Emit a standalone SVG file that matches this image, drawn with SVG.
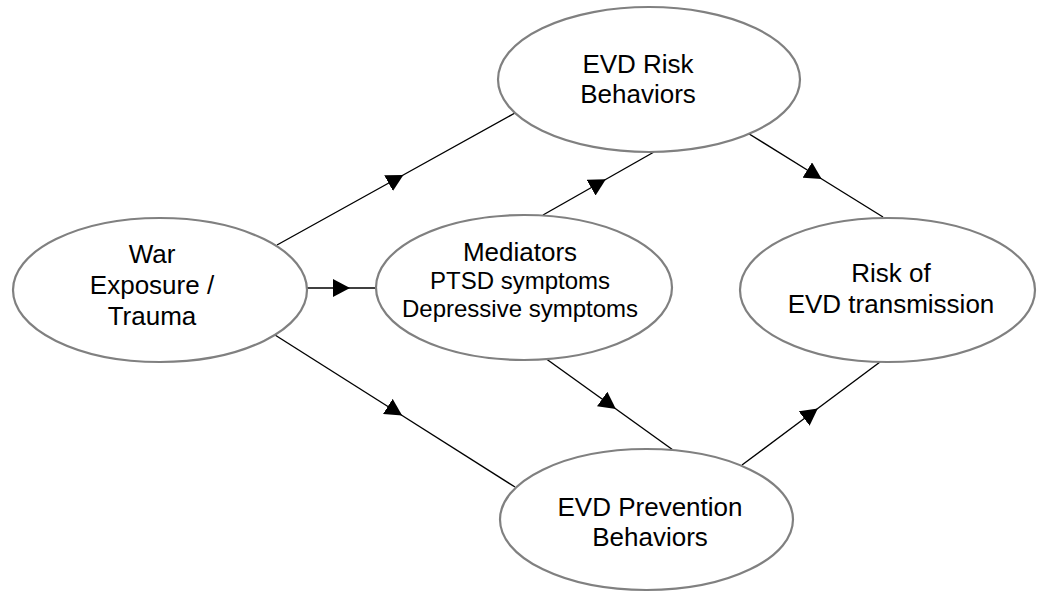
<svg xmlns="http://www.w3.org/2000/svg" width="1039" height="592" viewBox="0 0 1039 592">
<style>
.node ellipse{fill:#fff;stroke:#808080;stroke-width:2.2}
.node text{font-family:"Liberation Sans",Arial,sans-serif;font-size:26px;fill:#000;text-anchor:middle}
.node text.sub{font-size:24px}
.conn path{fill:none;stroke:#000;stroke-width:1.4;marker-mid:url(#ah)}
</style>
<defs>
<marker id="ah" markerUnits="userSpaceOnUse" markerWidth="18" markerHeight="18" refX="8.5" refY="9" orient="auto" viewBox="0 0 18 18">
<path d="M0,0 L17,9 L0,18 z" fill="#000"/>
</marker>
</defs>
<rect width="1039" height="592" fill="#fff"/>
<g class="conn" id="connectors">
<path d="M277,245 L396,179 L515,113"/>
<path d="M307,288 L341.5,288 L376,288"/>
<path d="M275,335 L395,411 L515,487"/>
<path d="M543,215 L598.5,183.5 L654,152"/>
<path d="M545,358 L609,404 L673,450"/>
<path d="M746,132 L814.5,174.5 L883,217"/>
<path d="M742,465 L811,413.5 L880,362"/>
</g>
<g class="node" id="war">
<ellipse cx="160" cy="290" rx="147" ry="72"/>
<text x="152" y="263">War</text>
<text x="152" y="294">Exposure /</text>
<text x="152" y="325">Trauma</text>
</g>
<g class="node" id="mediators">
<ellipse cx="524" cy="287.5" rx="148" ry="72.5"/>
<text x="520" y="261">Mediators</text>
<text class="sub" x="520" y="288.5">PTSD symptoms</text>
<text class="sub" x="520" y="316.5">Depressive symptoms</text>
</g>
<g class="node" id="risk-behaviors">
<ellipse cx="649" cy="79.5" rx="151" ry="72.5"/>
<text x="638" y="73">EVD Risk</text>
<text x="638" y="103">Behaviors</text>
</g>
<g class="node" id="prevention">
<ellipse cx="646.5" cy="519.5" rx="146.5" ry="70.5"/>
<text x="650" y="516">EVD Prevention</text>
<text x="650" y="546">Behaviors</text>
</g>
<g class="node" id="transmission">
<ellipse cx="887.5" cy="290" rx="147.5" ry="72"/>
<text x="891" y="282">Risk of</text>
<text x="891" y="313">EVD transmission</text>
</g>
</svg>
